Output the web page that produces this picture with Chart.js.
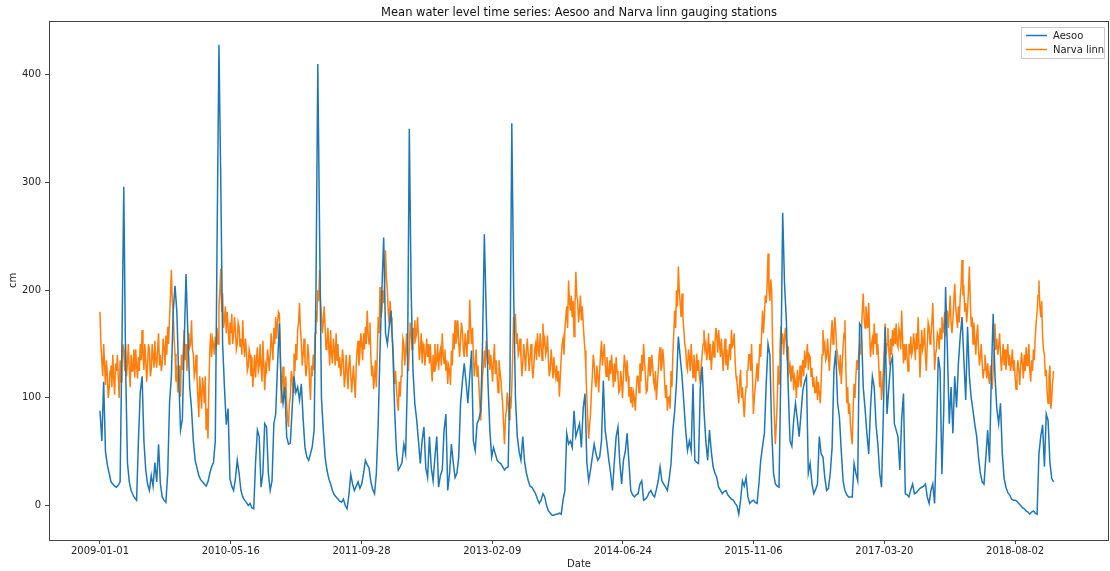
<!DOCTYPE html>
<html>
<head>
<meta charset="utf-8">
<script src="https://cdn.jsdelivr.net/npm/chart.js@4.4.1/dist/chart.umd.min.js"></script>
<style>
  html, body { margin: 0; padding: 0; background: #fff; }
  canvas { display: block; }
</style>
</head>
<body>
<canvas id="level_chart" width="1110" height="571"></canvas>
<script>
// weekly readings, first one on startDate
const startDate = "2009-01-01";
const stepDays = 7;
const tickDays = [0, 500, 1000, 1500, 2000, 2500, 3000, 3500];
const yTicks = [0, 100, 200, 300, 400];

const aesoo = [
  88, 60, 115, 50, 38, 30, 22, 20, 18, 17,
  19, 22, 150, 296, 130, 40, 22, 14, 10, 7,
  5, 60, 105, 120, 60, 33, 20, 14, 28, 18,
  40, 22, 57, 20, 8, 5, 3, 30, 95, 120,
  180, 204, 180, 120, 70, 80, 150, 215, 160, 110,
  90, 60, 42, 35, 28, 24, 22, 20, 18, 22,
  30, 36, 40, 60, 250, 428, 300, 150, 110, 75,
  90, 25, 18, 14, 25, 42, 30, 14, 8, 5,
  3, 0, 2, -2, -3, 40, 70, 64, 17, 30,
  76, 73, 30, 14, 23, 76, 85, 130, 169, 110,
  95, 110, 64, 57, 58, 90, 120, 105, 110, 98,
  113, 80, 54, 45, 42, 48, 55, 70, 200, 410,
  250, 100, 70, 45, 33, 25, 20, 14, 10, 8,
  6, 4, 3, 6, 0, -3, 10, 29, 20, 14,
  18, 22, 16, 20, 30, 42, 38, 35, 22, 15,
  11, 30, 76, 144, 200, 249, 160, 150, 166, 181,
  144, 88, 50, 33, 36, 40, 57, 48, 120, 350,
  200, 126, 95, 80, 60, 39, 60, 73, 35, 26,
  64, 35, 23, 45, 64, 17, 28, 33, 70, 85,
  14, 30, 57, 40, 26, 30, 45, 95, 115, 132,
  115, 95, 120, 144, 60, 51, 76, 80, 88, 150,
  252, 180, 113, 70, 45, 54, 48, 42, 40, 39,
  36, 33, 35, 36, 120, 355, 200, 100, 64, 50,
  42, 64, 40, 30, 23, 18, 17, 14, 11, 6,
  2, 5, 11, 8, 0, -5, -7, -9, -9, -8,
  -8, -7, -8, 5, 14, 67, 57, 60, 54, 88,
  64, 70, 76, 54, 90, 104, 40, 23, 33, 45,
  57, 48, 42, 45, 60, 116, 70, 57, 42, 30,
  14, 40, 64, 73, 40, 20, 42, 50, 67, 40,
  14, 10, 8, 10, 11, 20, 23, 5, 6, 8,
  12, 14, 10, 8, 15, 23, 36, 23, 20, 17,
  14, 25, 39, 70, 88, 115, 157, 138, 120, 95,
  70, 51, 60, 51, 113, 42, 40, 39, 110, 129,
  88, 60, 42, 70, 50, 36, 30, 26, 17, 14,
  11, 13, 14, 10, 8, 6, 5, 2, 0, -8,
  5, 23, 18, 26, 8, 2, 4, 5, 3, 2,
  20, 42, 55, 67, 113, 150, 140, 70, 30, 20,
  18, 17, 126, 272, 206, 172, 110, 60, 55, 79,
  95, 80, 64, 85, 107, 115, 120, 30, 39, 20,
  11, 15, 20, 64, 48, 45, 26, 14, 16, 30,
  54, 126, 144, 95, 82, 51, 23, 14, 10, 8,
  8, 8, 39, 30, 23, 169, 166, 110, 90, 67,
  48, 91, 120, 110, 75, 57, 30, 17, 85, 166,
  85, 110, 132, 138, 76, 70, 64, 33, 80, 104,
  11, 10, 8, 15, 20, 11, 12, 14, 16, 17,
  18, 20, 8, 2, 14, 20, 2, 60, 138, 126,
  29, 88, 203, 144, 76, 110, 67, 120, 91, 132,
  157, 175, 135, 98, 166, 120, 100, 88, 75, 64,
  45, 30, 22, 20, 45, 70, 40, 120, 178, 120,
  90, 76, 95, 48, 25, 17, 12, 10, 6, 5,
  5, 4, 2, 0, -2, -3, -5, -6, -8, -6,
  -5, -7, -8, 48, 64, 75, 36, 85, 79, 40,
  25, 22
];

// Narva linn is noisier: a reading every week plus one half a week later
const narvaLinn = [
  180, 135, 150, 112, 122, 108, 130, 140, 103, 125,
  118, 135, 128, 144, 150, 132, 126, 140, 128, 119,
  130, 138, 150, 163, 126, 135, 130, 144, 126, 138,
  153, 128, 160, 140, 132, 147, 158, 166, 175, 219,
  180, 141, 130, 119, 101, 126, 163, 150, 140, 147,
  172, 141, 125, 119, 82, 105, 119, 95, 70, 62,
  144, 138, 150, 157, 165, 185, 220, 197, 172, 160,
  166, 170, 178, 158, 163, 150, 166, 155, 172, 138,
  144, 129, 140, 138, 125, 119, 147, 130, 129, 153,
  107, 125, 138, 140, 147, 165, 175, 170, 178, 95,
  129, 110, 95, 73, 100, 119, 141, 150, 163, 188,
  153, 140, 135, 128, 141, 98, 120, 126, 181, 200,
  219, 178, 170, 166, 150, 147, 163, 132, 145, 160,
  150, 138, 128, 135, 119, 125, 130, 122, 118, 113,
  130, 153, 140, 150, 160, 166, 181, 150, 138, 130,
  119, 110, 175, 203, 180, 188, 237, 200, 169, 175,
  150, 113, 107, 88, 101, 132, 150, 142, 138, 145,
  160, 165, 172, 160, 157, 145, 132, 147, 140, 138,
  132, 129, 140, 150, 135, 126, 145, 160, 132, 125,
  113, 126, 144, 160, 172, 158, 150, 155, 163, 138,
  150, 163, 191, 150, 140, 130, 120, 113, 79, 120,
  144, 153, 132, 126, 130, 135, 122, 119, 135, 118,
  95, 57, 88, 95, 101, 110, 175, 178, 160, 144,
  138, 132, 140, 144, 140, 138, 132, 129, 150, 160,
  138, 150, 169, 155, 144, 135, 126, 132, 138, 119,
  115, 101, 138, 155, 163, 185, 209, 181, 175, 157,
  217, 190, 181, 172, 169, 144, 101, 62, 85, 120,
  132, 110, 120, 126, 153, 140, 132, 138, 116, 122,
  126, 132, 138, 120, 107, 115, 122, 130, 135, 101,
  95, 91, 100, 107, 120, 132, 140, 150, 120, 107,
  138, 125, 129, 110, 98, 125, 147, 130, 135, 100,
  88, 101, 125, 141, 181, 200, 222, 188, 197, 163,
  145, 126, 138, 150, 119, 130, 141, 135, 113, 140,
  163, 150, 144, 135, 126, 153, 150, 158, 163, 138,
  140, 144, 130, 126, 150, 163, 150, 135, 115, 95,
  126, 110, 82, 110, 126, 140, 150, 85, 110, 132,
  130, 138, 181, 175, 188, 234, 190, 200, 107, 57,
  95, 113, 166, 160, 155, 150, 148, 130, 120, 107,
  115, 126, 118, 110, 135, 144, 138, 126, 138, 128,
  119, 105, 98, 105, 113, 163, 150, 138, 140, 144,
  172, 160, 163, 141, 125, 113, 147, 172, 95, 85,
  76, 57, 113, 120, 126, 150, 163, 197, 165, 175,
  188, 138, 155, 169, 160, 150, 110, 98, 126, 169,
  150, 144, 155, 163, 165, 169, 147, 160, 181, 132,
  135, 138, 150, 157, 144, 150, 160, 175, 119, 163,
  150, 138, 150, 166, 157, 188, 126, 145, 157, 165,
  175, 166, 157, 181, 178, 170, 172, 206, 175, 185,
  194, 228, 200, 188, 181, 222, 166, 150, 155, 157,
  145, 138, 132, 126, 130, 132, 113, 119, 125, 169,
  155, 147, 140, 138, 130, 126, 150, 140, 132, 125,
  119, 122, 126, 130, 132, 140, 147, 138, 126, 135,
  145, 157, 180, 209, 175, 157, 140, 126, 95, 130,
  100, 125
];

const narvaLinnMidweek = [
  150, 120, 132, 135, 100, 125, 110, 118, 132, 140,
  100, 115, 150, 125, 120, 150, 110, 125, 145, 145,
  118, 125, 135, 140, 150, 115, 150, 120, 150, 128,
  135, 145, 130, 125, 155, 130, 140, 150, 195, 190,
  155, 115, 105, 130, 140, 145, 135, 125, 160, 150,
  145, 120, 140, 100, 120, 90, 110, 120, 90, 110,
  160, 155, 140, 145, 150, 200, 180, 165, 185, 180,
  150, 160, 150, 175, 145, 170, 148, 140, 150, 155,
  125, 145, 120, 110, 140, 135, 125, 150, 115, 130,
  130, 145, 125, 160, 135, 150, 155, 180, 150, 115,
  100, 120, 80, 95, 125, 105, 125, 135, 170, 165,
  130, 155, 120, 150, 115, 130, 140, 160, 170, 190,
  190, 160, 185, 145, 165, 130, 140, 155, 130, 135,
  128, 120, 145, 110, 140, 108, 140, 105, 130, 100,
  145, 130, 160, 135, 145, 150, 160, 170, 120, 108,
  135, 140, 160, 175, 200, 205, 210, 180, 190, 160,
  130, 125, 95, 115, 120, 155, 130, 160, 125, 170,
  145, 150, 155, 175, 135, 160, 150, 130, 155, 150,
  150, 115, 125, 130, 150, 140, 130, 140, 145, 135,
  130, 112, 130, 145, 150, 172, 138, 170, 145, 160,
  138, 150, 165, 165, 120, 145, 130, 95, 100, 130,
  128, 140, 145, 140, 115, 150, 135, 105, 125, 105,
  75, 80, 105, 80, 90, 140, 160, 150, 140, 155,
  120, 150, 125, 155, 125, 150, 118, 145, 135, 145,
  160, 135, 150, 140, 158, 120, 145, 118, 125, 130,
  125, 120, 150, 140, 175, 165, 190, 195, 190, 185,
  195, 170, 195, 185, 155, 125, 80, 75, 105, 140,
  115, 130, 105, 140, 130, 150, 120, 125, 135, 140,
  110, 115, 125, 105, 125, 100, 140, 115, 120, 110,
  110, 105, 88, 120, 105, 115, 125, 135, 105, 125,
  120, 140, 115, 125, 112, 140, 125, 145, 115, 112,
  100, 90, 110, 160, 165, 185, 200, 175, 175, 150,
  130, 145, 125, 135, 140, 115, 125, 120, 130, 150,
  145, 135, 160, 150, 140, 138, 165, 142, 150, 155,
  125, 155, 145, 140, 135, 148, 160, 120, 105, 115,
  100, 95, 100, 125, 140, 125, 120, 100, 120, 115,
  150, 160, 160, 195, 205, 200, 210, 150, 80, 75,
  130, 145, 150, 140, 165, 135, 125, 115, 130, 120,
  100, 110, 130, 125, 120, 128, 150, 140, 120, 110,
  105, 120, 115, 95, 140, 145, 135, 155, 125, 158,
  150, 175, 145, 130, 140, 130, 160, 130, 110, 95,
  65, 90, 100, 135, 140, 140, 180, 175, 185, 165,
  160, 150, 140, 150, 140, 130, 125, 110, 145, 140,
  165, 130, 140, 148, 150, 150, 165, 145, 155, 150,
  150, 125, 140, 140, 160, 135, 145, 150, 140, 145,
  165, 125, 170, 150, 170, 160, 140, 160, 145, 155,
  160, 180, 170, 165, 195, 160, 190, 185, 165, 170,
  205, 195, 180, 170, 200, 190, 175, 170, 140, 168,
  130, 150, 118, 140, 118, 120, 130, 108, 145, 145,
  140, 160, 125, 150, 145, 140, 130, 125, 145, 135,
  108, 135, 112, 142, 118, 125, 130, 150, 115, 125,
  135, 170, 195, 185, 190, 145, 120, 105, 120, 90,
  115
];

const seriesNames = ["Aesoo", "Narva linn"];
const seriesColors = ["#1f77b4", "#ff7f0e"];
const chartTitle = "Mean water level time series: Aesoo and Narva linn gauging stations";

function toPoints(values, midValues) {
  const pts = [];
  values.forEach(function (v, i) {
    pts.push({ x: i * stepDays, y: v });
    if (midValues && midValues[i] !== undefined) {
      pts.push({ x: i * stepDays + stepDays / 2, y: midValues[i] });
    }
  });
  return pts;
}

function dayToLabel(day) {
  const t = Date.parse(startDate + "T00:00:00Z") + day * 86400000;
  return new Date(t).toISOString().slice(0, 10);
}

const FONT = "DejaVu Sans";

// box round the plot, title over it, legend in its upper right corner
const framePlugin = {
  id: "frame",
  afterDraw: function (chart) {
    const ctx = chart.ctx;
    const a = chart.chartArea;
    ctx.save();
    ctx.strokeStyle = "#444";
    ctx.lineWidth = 1;
    ctx.strokeRect(a.left + 0.5, a.top + 0.5, a.right - a.left - 1, a.bottom - a.top);

    ctx.fillStyle = "#111";
    ctx.font = "11.5px " + FONT;
    ctx.textAlign = "center";
    ctx.textBaseline = "middle";
    ctx.fillText(chartTitle, (a.left + a.right) / 2, 13);

    const boxW = 83, boxH = 31;
    const bx = a.right - boxW - 5, by = a.top + 6;
    ctx.fillStyle = "rgba(255,255,255,0.8)";
    ctx.fillRect(bx, by, boxW, boxH);
    ctx.strokeStyle = "#ccc";
    ctx.strokeRect(bx + 0.5, by + 0.5, boxW, boxH);
    ctx.textAlign = "left";
    ctx.font = "10px " + FONT;
    seriesNames.forEach(function (name, k) {
      const ly = by + 8.5 + k * 14;
      ctx.strokeStyle = seriesColors[k];
      ctx.lineWidth = 1.5;
      ctx.beginPath();
      ctx.moveTo(bx + 5, ly);
      ctx.lineTo(bx + 26, ly);
      ctx.stroke();
      ctx.fillStyle = "#222";
      ctx.fillText(name, bx + 32, ly + 0.5);
    });
    ctx.restore();
  }
};

document.addEventListener("DOMContentLoaded", function () {
  new Chart("level_chart", {
    type: "line",
    data: {
      datasets: [
        {
          label: seriesNames[0],
          data: toPoints(aesoo),
          borderColor: seriesColors[0],
          borderWidth: 1.5,
          pointRadius: 0,
          tension: 0,
        },
        {
          label: seriesNames[1],
          data: toPoints(narvaLinn, narvaLinnMidweek),
          borderColor: seriesColors[1],
          borderWidth: 1.5,
          pointRadius: 0,
          tension: 0,
        },
      ],
    },
    options: {
      responsive: false,
      animation: false,
      devicePixelRatio: 1,
      layout: { padding: { top: 21, right: 1, bottom: 0, left: 0 } },
      plugins: {
        legend: { display: false },
        title: { display: false },
        tooltip: { enabled: false },
      },
      scales: {
        x: {
          type: "linear",
          min: -195,
          max: 3859,
          afterFit: function (s) { s.height = 31; },
          afterBuildTicks: function (s) {
            s.ticks = tickDays.map(function (d) { return { value: d }; });
          },
          ticks: {
            maxRotation: 0,
            autoSkip: false,
            padding: 1,
            color: "#222",
            font: { family: FONT, size: 10 },
            callback: function (v) { return dayToLabel(v); },
          },
          grid: { drawOnChartArea: false, drawTicks: true, tickLength: 4, color: "#444" },
          border: { display: false },
          title: {
            display: true,
            text: "Date",
            color: "#222",
            font: { family: FONT, size: 10 },
            padding: { top: 0, bottom: 1 },
          },
        },
        y: {
          min: -32,
          max: 450,
          afterFit: function (s) { s.width = 49; },
          afterBuildTicks: function (s) {
            s.ticks = yTicks.map(function (v) { return { value: v }; });
          },
          ticks: {
            padding: 4,
            color: "#222",
            font: { family: FONT, size: 10 },
          },
          grid: { drawOnChartArea: false, drawTicks: true, tickLength: 4, color: "#444" },
          border: { display: false },
          title: {
            display: true,
            text: "cm",
            color: "#222",
            font: { family: FONT, size: 10 },
            padding: { top: 7, bottom: 0 },
          },
        },
      },
    },
    plugins: [framePlugin],
  });
});
</script>
</body>
</html>
